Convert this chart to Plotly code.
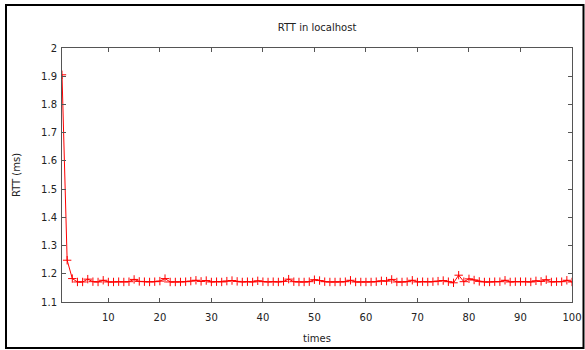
import plotly.graph_objects as go

times = list(range(1, 101))
rtt_ms = [
    1.905, 1.248, 1.183, 1.171, 1.171, 1.181, 1.172, 1.171, 1.177, 1.171,
    1.171, 1.172, 1.171, 1.172, 1.180, 1.173, 1.172, 1.171, 1.172, 1.174,
    1.183, 1.171, 1.171, 1.171, 1.172, 1.174, 1.177, 1.173, 1.176, 1.171,
    1.172, 1.171, 1.174, 1.176, 1.173, 1.171, 1.172, 1.171, 1.175, 1.172,
    1.171, 1.172, 1.171, 1.173, 1.181, 1.172, 1.171, 1.171, 1.172, 1.179,
    1.176, 1.172, 1.171, 1.171, 1.171, 1.172, 1.177, 1.171, 1.171, 1.171,
    1.171, 1.172, 1.175, 1.174, 1.180, 1.171, 1.171, 1.172, 1.177, 1.171,
    1.172, 1.171, 1.172, 1.174, 1.176, 1.172, 1.168, 1.195, 1.172, 1.182,
    1.178, 1.173, 1.171, 1.171, 1.172, 1.172, 1.177, 1.171, 1.172, 1.172,
    1.172, 1.171, 1.175, 1.173, 1.179, 1.171, 1.172, 1.172, 1.177, 1.171,
]
y_ticks = [1.1, 1.2, 1.3, 1.4, 1.5, 1.6, 1.7, 1.8, 1.9, 2.0]
y_tick_labels = ["1.1", "1.2", "1.3", "1.4", "1.5", "1.6", "1.7", "1.8", "1.9", "2"]
x_ticks = [10, 20, 30, 40, 50, 60, 70, 80, 90, 100]

W, H = 585, 350
L, R, T, B = 62, 13, 48, 48
pw, ph = W - L - R, H - T - B

def px(x):
    return (x - L) / pw

def py(y):
    return (H - B - y) / ph

FONT = dict(family="DejaVu Sans", size=10, color="#222222")

fig = go.Figure()
fig.add_trace(go.Scatter(
    x=times, y=rtt_ms, mode="lines+markers",
    line=dict(color="rgb(255,0,0)", width=1),
    marker=dict(symbol="cross-thin", size=6, line=dict(color="rgb(255,0,0)", width=1)),
    showlegend=False,
))

axis_common = dict(
    showgrid=False, zeroline=False, showline=True, linecolor="#555555", linewidth=1,
    mirror="ticks", ticks="inside", ticklen=4, tickcolor="#555555", tickwidth=1,
    tickfont=FONT, automargin=False,
)

fig.update_layout(
    width=W, height=H,
    margin=dict(l=L, r=R, t=T, b=B, autoexpand=False),
    paper_bgcolor="white", plot_bgcolor="white",
    font=FONT,
    title=dict(text="RTT in localhost", xref="paper", x=px(317), xanchor="center",
               yref="container", y=1 - 27 / H, yanchor="middle",
               font=FONT, automargin=False),
    xaxis=dict(range=[1, 100], tickvals=x_ticks, ticklabelstandoff=6,
               title=dict(text="times", standoff=12, font=FONT),
               **axis_common),
    yaxis=dict(range=[1.1, 2.0], tickvals=y_ticks, ticktext=y_tick_labels, ticklabelstandoff=2,
               title=dict(text="RTT (ms)", standoff=18, font=FONT),
               **axis_common),
    shapes=[dict(type="rect", xref="paper", yref="paper",
                 x0=px(6), x1=px(583.5), y0=py(348), y1=py(5),
                 line=dict(color="black", width=2), fillcolor="rgba(0,0,0,0)", layer="above")],
)

fig.write_html(
    "out.html",
    config={"displayModeBar": False},
    post_script="document.body.style.margin='0';document.body.style.padding='0';document.body.style.overflow='hidden';",
)
